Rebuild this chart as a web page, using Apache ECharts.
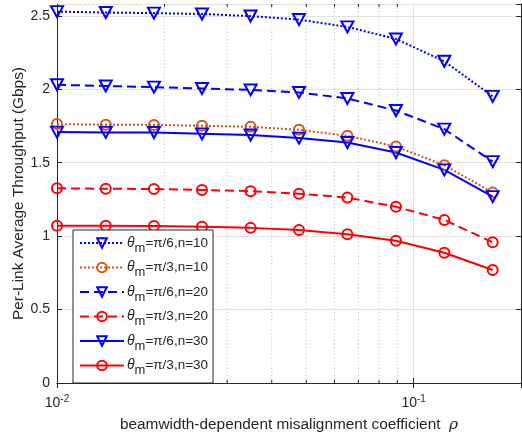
<!DOCTYPE html>
<html><head><meta charset="utf-8">
<script src="https://cdn.jsdelivr.net/npm/echarts@6/dist/echarts.min.js"></script>
<style>html,body{margin:0;padding:0;background:#fff}#c{width:522px;height:439px}</style>
</head><body><div id="c"></div>
<script>
const rho = [0.0100, 0.0137, 0.0187, 0.0255, 0.0349, 0.0477, 0.0652, 0.0892, 0.1219, 0.1666];
const s_pi6_n10 = [2.528, 2.522, 2.518, 2.512, 2.498, 2.474, 2.424, 2.342, 2.190, 1.951];
const s_pi3_n10 = [1.763, 1.758, 1.757, 1.751, 1.744, 1.724, 1.683, 1.610, 1.483, 1.296];
const s_pi6_n20 = [2.030, 2.022, 2.014, 2.005, 1.995, 1.978, 1.937, 1.855, 1.728, 1.507];
const s_pi3_n20 = [1.326, 1.322, 1.321, 1.314, 1.306, 1.289, 1.262, 1.200, 1.110, 0.958];
const s_pi6_n30 = [1.708, 1.706, 1.705, 1.696, 1.688, 1.667, 1.637, 1.569, 1.451, 1.269];
const s_pi3_n30 = [1.071, 1.071, 1.069, 1.063, 1.056, 1.042, 1.012, 0.969, 0.887, 0.769];
const minorTicks = [0.02, 0.03, 0.04, 0.05, 0.06, 0.07, 0.08, 0.09];
const names = ['π/6,n=10','π/3,n=10','π/6,n=20','π/3,n=20','π/6,n=30','π/3,n=30'];

const BLUE = '#0000ff', ORANGE = '#d95319', RED = '#ff0000';
const AX = '#262626';
const YMIN = 0, YMAX = 2.58;
const FONT = 'Liberation Sans, Arial, sans-serif';

function mk(name, vals, color, dash, sym) {
  const tri = sym === 'tri';
  return {
    name: name, type: 'line', data: rho.map((x, i) => [x, vals[i]]),
    symbol: tri ? 'triangle' : 'circle', symbolRotate: tri ? 180 : 0,
    symbolSize: tri ? [12, 11] : 10, showSymbol: true,
    lineStyle: { color: color, width: 2, type: dash, cap: 'butt' },
    itemStyle: { color: 'rgba(255,255,255,0)', borderColor: color, borderWidth: 2 },
    emphasis: { disabled: true }, animation: false, z: 3
  };
}
const DOT = [2, 2], DASH = [9, 5];

const chart = echarts.init(document.getElementById('c'), null, { renderer: 'canvas' });
const opt = {
  animation: false,
  textStyle: { fontFamily: FONT },
  grid: { left: 57, right: 1, top: 4, bottom: 56, containLabel: false, outerBoundsMode: 'none' },
  xAxis: [{
    type: 'log', logBase: 10, min: 0.01, max: 0.2, position: 'bottom',
    axisLine: { show: true, lineStyle: { color: AX, width: 1 } },
    axisTick: { show: true, inside: true, length: 5, lineStyle: { color: AX } },
    splitLine: { show: true, lineStyle: { color: '#e1e1e1', width: 1 } },
    axisLabel: {
      margin: 11, color: AX, showMaxLabel: false,
      formatter: v => '{b|10}{e|' + Math.round(Math.log10(v)) + '}',
      rich: { b: { fontSize: 14, fontFamily: FONT, color: AX }, e: { fontSize: 10, fontFamily: FONT, color: AX, padding: [0, 0, 9, 0] } }
    },
    name: '{n|beamwidth-dependent misalignment coefficient  }{r|ρ}',
    nameLocation: 'middle', nameGap: 34,
    nameTextStyle: { rich: { n: { fontSize: 15.4, fontFamily: FONT, color: AX }, r: { fontSize: 15.4, fontFamily: 'DejaVu Serif, serif', fontStyle: 'italic', color: AX } } }
  }, {
    type: 'log', logBase: 10, min: 0.01, max: 0.2, position: 'top',
    axisLine: { show: true, lineStyle: { color: AX, width: 1 } },
    axisTick: { show: true, inside: true, length: 5, lineStyle: { color: AX } },
    axisLabel: { show: false }, splitLine: { show: false }
  }],
  yAxis: [{
    type: 'value', min: YMIN, max: YMAX, interval: 0.5, position: 'left',
    axisLine: { show: true, lineStyle: { color: AX, width: 1 } },
    axisTick: { show: true, inside: true, length: 5, lineStyle: { color: AX } },
    splitLine: { show: true, lineStyle: { color: '#e1e1e1', width: 1 } },
    axisLabel: { margin: 7, color: AX, fontSize: 14, fontFamily: FONT, showMaxLabel: false },
    name: 'Per-Link Average Throughput (Gbps)', nameLocation: 'middle', nameGap: 31,
    nameMoveOverlap: false,
    nameTextStyle: { fontSize: 15.4, fontFamily: FONT, color: AX }
  }, {
    type: 'value', min: YMIN, max: YMAX, interval: 0.5, position: 'right',
    axisLine: { show: true, lineStyle: { color: AX, width: 1 } },
    axisTick: { show: true, inside: true, length: 5, lineStyle: { color: AX } },
    axisLabel: { show: false }, splitLine: { show: false }
  }],
  legend: {
    orient: 'vertical', left: 73, top: 230,
    data: names,
    itemWidth: 44, itemHeight: 12, itemGap: 6,
    padding: [6, 5, 6, 6],
    backgroundColor: '#fff', borderColor: AX, borderWidth: 1,
    formatter: n => '{t|θ}{m|m}{v|=' + n + '}',
    textStyle: {
      padding: [0, 0, 0, -2],
      rich: {
        t: { fontSize: 14, fontStyle: 'italic', fontFamily: FONT, color: AX },
        m: { fontSize: 13, fontFamily: FONT, color: AX, padding: [10, 0, 0, 0] },
        v: { fontSize: 13.5, fontFamily: FONT, color: AX }
      }
    },
    selectedMode: false
  },
  series: [
    mk(names[0], s_pi6_n10, BLUE, DOT, 'tri'),
    mk(names[1], s_pi3_n10, ORANGE, DOT, 'circ'),
    mk(names[2], s_pi6_n20, BLUE, DASH, 'tri'),
    mk(names[3], s_pi3_n20, RED, DASH, 'circ'),
    mk(names[4], s_pi6_n30, BLUE, 'solid', 'tri'),
    mk(names[5], s_pi3_n30, RED, 'solid', 'circ'),
    {
      type: 'custom', name: 'minor', silent: true, z: 1,
      data: minorTicks.map(v => [v, 0]),
      renderItem: (params, api) => {
        const x = api.value(0);
        const b = api.coord([x, YMIN]);
        const t = api.coord([x, YMAX]);
        return { type: 'group', children: [
          { type: 'line', shape: { x1: b[0], y1: b[1], x2: t[0], y2: t[1] }, style: { stroke: '#bdbdbd', lineWidth: 1, lineDash: [1, 2.5] } },
          { type: 'line', shape: { x1: b[0], y1: b[1], x2: b[0], y2: b[1] - 3 }, style: { stroke: AX, lineWidth: 1 } },
          { type: 'line', shape: { x1: t[0], y1: t[1], x2: t[0], y2: t[1] + 3 }, style: { stroke: AX, lineWidth: 1 } }
        ] };
      }
    }
  ]
};
chart.setOption(opt);
</script></body></html>
